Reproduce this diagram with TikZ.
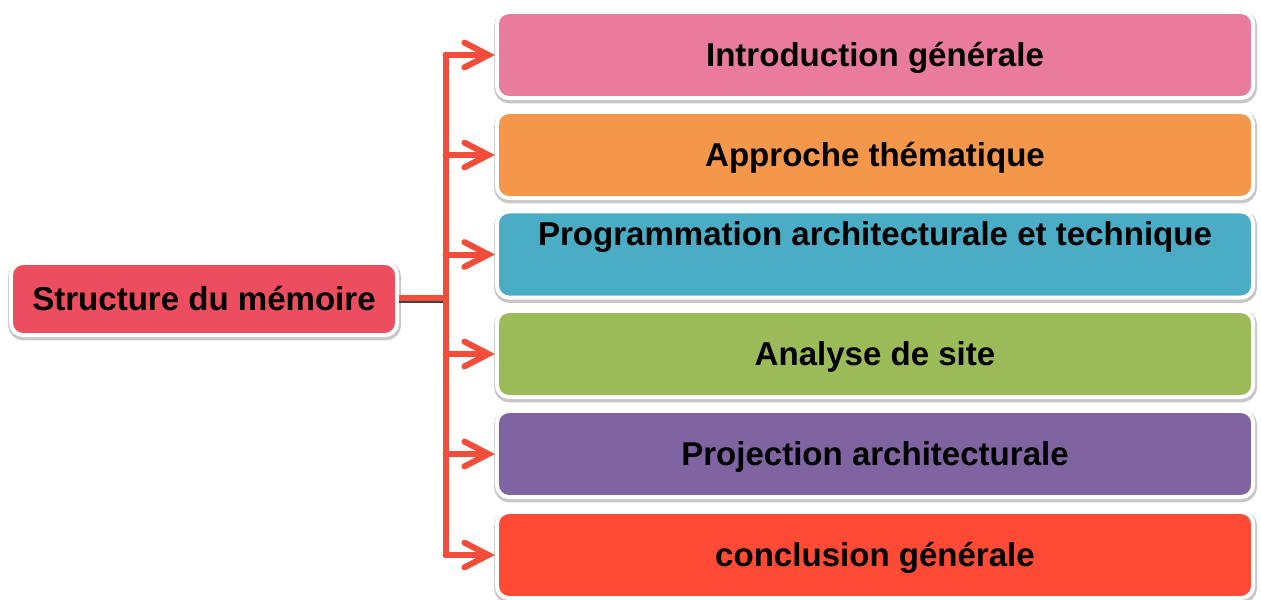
\documentclass[tikz,border=0pt]{standalone}
\usepackage{fontspec}
\setmainfont{Liberation Sans}
\usetikzlibrary{arrows.meta}

\definecolor{linkred}{HTML}{F24C3A}
\definecolor{rootred}{HTML}{EC4E60}
\definecolor{introcol}{HTML}{E97B9C}
\definecolor{themecol}{HTML}{F5974A}
\definecolor{progcol}{HTML}{4BACC6}
\definecolor{sitecol}{HTML}{9BBB59}
\definecolor{projcol}{HTML}{8064A2}
\definecolor{conclcol}{HTML}{FF4A36}

\tikzset{
  partbox/.style={draw=white, line width=0.1cm, rounded corners=0.3cm,
    minimum width=18.9cm, minimum height=2.15cm, align=center,
    text height=0.6cm, text depth=0.05cm,
    font=\fontsize{23.5}{28}\selectfont\bfseries,
    preaction={draw=black!22, line width=0.17cm, transform canvas={shift={(0.4pt,-1.4pt)}}}},
  link/.style={draw=linkred, line width=0.15cm, line cap=round, line join=round,
    -{Straight Barb[length=0.6cm, width=0.62cm, line cap=round]}}
}

\begin{document}
\begin{tikzpicture}[x=0.025cm, y=-0.025cm]
\useasboundingbox (0,0) rectangle (1261,599);
\node[partbox, minimum width=9.65cm, minimum height=1.8cm, fill=rootred] (root) at (204,299) {Structure du m\'emoire};
\node[partbox, fill=introcol] (intro) at (875,55) {Introduction g\'en\'erale};
\node[partbox, fill=themecol] (theme) at (875,155) {Approche th\'ematique};
\node[partbox, fill=progcol] (prog) at (875,254.5) {\raisebox{0.51cm}[0pt][0pt]{Programmation architecturale et technique}};
\node[partbox, fill=sitecol] (site) at (875,354) {Analyse de site};
\node[partbox, fill=projcol] (proj) at (875,454) {Projection architecturale};
\node[partbox, fill=conclcol] (concl) at (875,555) {conclusion g\'en\'erale};
\coordinate (fork) at (445.5,297.5);
% trunk with its shadow
\draw[black!75, line width=0.12cm] ([yshift=-2pt]root.east |- fork) -- ([yshift=-2pt]fork);
\draw[linkred, line width=0.15cm] (root.east |- fork) -- (fork);
\draw[linkred, line width=0.15cm, line cap=round] (fork |- intro.west) -- (fork |- concl.west);
\foreach \part in {intro,theme,prog,site,proj,concl}
  \draw[link] (fork |- \part.west) -- (\part.west);
\end{tikzpicture}
\end{document}
